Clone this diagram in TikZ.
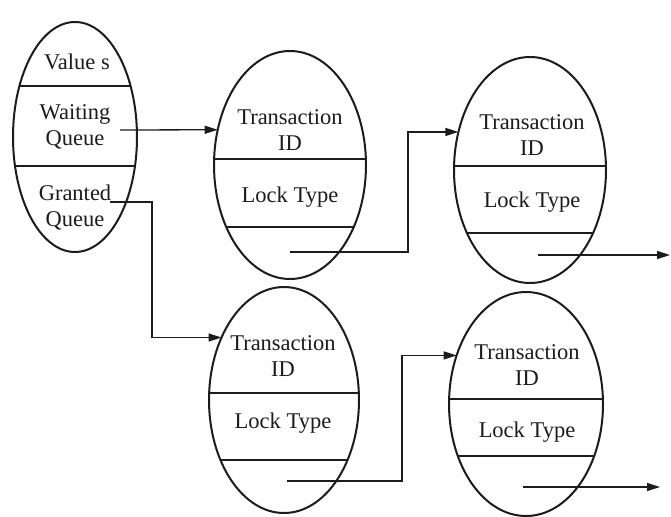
\documentclass[tikz,border=0pt]{standalone}
\usepackage{fontspec}
\setmainfont{Liberation Serif}
\usetikzlibrary{shapes.geometric,arrows.meta}

\definecolor{ink}{HTML}{1C1C1C}

\tikzset{
  rec/.style={ellipse, draw=ink, line width=2pt, inner sep=0pt, outer sep=0pt},
  divline/.style={draw=ink, line width=1.3pt},
  lbl/.style={align=center, inner sep=0pt, text=ink,
              font=\fontsize{22.5}{26}\selectfont},
  conn/.style={draw=ink, line width=1.3pt},
  arr/.style={conn, -{Triangle[length=13pt,width=8pt]}}
}

\begin{document}
\begin{tikzpicture}[x=1pt, y=-1pt]
\useasboundingbox[fill=white] (0,0) rectangle (671,516);

% record ellipses with their two field separators
\foreach \n/\cx/\cy/\rx/\ry/\da/\db in {
    lq/75/137/62/115/86/166,
    ta/290/165/76/114/159/227,
    tb/530/170/76/113/166/233,
    tc/284/400/75/113/393/460,
    td/526/404/77/112/399/456} {
  \node[rec, minimum width=2*\rx, minimum height=2*\ry] (\n) at (\cx,\cy) {};
  \begin{scope}
    \clip (\cx,\cy) ellipse [x radius=\rx, y radius=\ry];
    \draw[divline] (\cx-\rx,\da) -- (\cx+\rx,\da);
    \draw[divline] (\cx-\rx,\db) -- (\cx+\rx,\db);
  \end{scope}
}

% lock table entry fields
\node[lbl] (vals) at (77,62) {Value s};
\node[lbl] (wait) at (75,127) {Waiting\\Queue};
\node[lbl] (gran) at (75,208) {Granted\\Queue};

% transaction records
\node[lbl] (taid) at (290,130) {Transaction\\ID};
\node[lbl] (talk) at (290,197) {Lock Type};
\node[lbl] (tbid) at (532,135) {Transaction\\ID};
\node[lbl] (tblk) at (532,202) {Lock Type};
\node[lbl] (tcid) at (283,356) {Transaction\\ID};
\node[lbl] (tclk) at (283,423) {Lock Type};
\node[lbl] (tdid) at (527,365) {Transaction\\ID};
\node[lbl] (tdlk) at (527,432) {Lock Type};

% pointer origins and bends
\coordinate (wq) at (120,130);
\coordinate (gq) at (110,202);
\coordinate (gbend) at (152,270);
\coordinate (pa) at (290,252);
\coordinate (abend) at (408,190);
\coordinate (pb) at (538,255);
\coordinate (nb) at (670,255);
\coordinate (pc) at (287,481);
\coordinate (cbend) at (402,420);
\coordinate (pd) at (523,487);
\coordinate (nd) at (660,487);

% queue pointers
\draw[arr] (wq) -- (ta.154.2);
\draw[arr] (gq) -| (gbend) |- (tc.135.3);
\draw[arr] (pa) -| (abend) |- (tb.152.7);
\draw[arr] (pb) -- (nb);
\draw[arr] (pc) -| (cbend) |- (td.145.4);
\draw[arr] (pd) -- (nd);
\end{tikzpicture}
\end{document}
